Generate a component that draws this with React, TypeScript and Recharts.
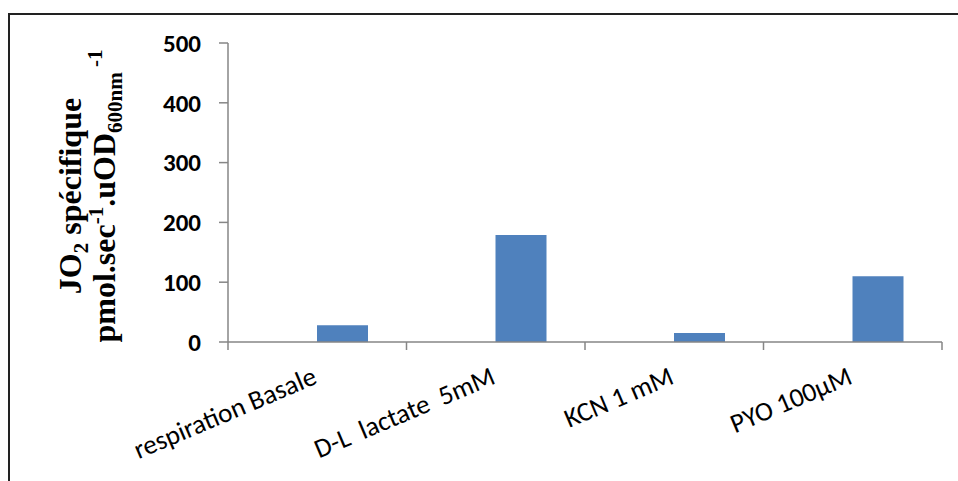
import React from 'react';
import { BarChart, Bar, XAxis, YAxis } from 'recharts';

const categories = ['respiration Basale', 'D-L  lactate  5mM', 'KCN 1 mM', 'PYO 100µM'];
const jo2Values = [28, 179, 15, 110];
const spacerValues = [0, 0, 0, 0];
const yTicks = [0, 100, 200, 300, 400, 500];

const data = categories.map((name, i) => ({ name, spacer: spacerValues[i], jo2: jo2Values[i] }));

const W = 958;
const H = 481;
const PLOT_LEFT = 228;
const PLOT_RIGHT = 942;
const PLOT_TOP = 43;
const PLOT_BOTTOM = 342;
const BAND = (PLOT_RIGHT - PLOT_LEFT) / categories.length;
const AXIS_GREY = '#868686';
const SANS = 'Carlito, Calibri, Lato, sans-serif';

const XTick = (props: any) => {
  const { x, payload, index } = props;
  const left = x - BAND / 2;
  const last = index === categories.length - 1;
  const tx = x + 1;
  const ty = PLOT_BOTTOM + 41;
  return (
    <g>
      <line x1={left} y1={PLOT_BOTTOM} x2={left} y2={PLOT_BOTTOM + 8} stroke={AXIS_GREY} strokeWidth={1.5} />
      {last && (
        <line x1={x + BAND / 2} y1={PLOT_BOTTOM} x2={x + BAND / 2} y2={PLOT_BOTTOM + 8} stroke={AXIS_GREY} strokeWidth={1.5} />
      )}
      <text
        x={tx}
        y={ty}
        textAnchor="end"
        transform={`rotate(-23 ${tx} ${ty})`}
        fontFamily={SANS}
        fontSize={27}
        fill="#000"
        style={{ whiteSpace: 'pre' }}
      >
        {payload.value}
      </text>
    </g>
  );
};

const YTitle = () => {
  const cy = 196;
  const serif = '"Liberation Serif", "Times New Roman", serif';
  return (
    <g fontFamily={serif} fontWeight="bold" fill="#000">
      <text x={81} y={cy} textAnchor="middle" fontSize={32} transform={`rotate(-90 81 ${cy})`}>
        JO<tspan fontSize={21} dy={7}>2</tspan>
        <tspan dy={-7}> spécifique</tspan>
      </text>
      <text x={115} y={cy} textAnchor="middle" fontSize={32} transform={`rotate(-90 115 ${cy})`}>
        pmol.sec<tspan fontSize={21} dy={-12}>-1</tspan>
        <tspan dy={12}>.uOD</tspan>
        <tspan fontSize={21} dy={7}>600nm</tspan>
        <tspan fontSize={21} dy={-20}> -1</tspan>
      </text>
    </g>
  );
};

export default function App() {
  return (
    <div style={{ position: 'absolute', left: 0, top: 0, width: W, height: H, background: '#fff', overflow: 'hidden' }}>
      <div
        style={{
          position: 'absolute',
          left: 8,
          top: 13,
          width: W + 20,
          height: H + 20,
          border: '2px solid #222',
          boxSizing: 'border-box',
        }}
      />
      <BarChart
        width={W}
        height={H}
        data={data}
        margin={{ top: PLOT_TOP, right: W - PLOT_RIGHT, bottom: 0, left: 0 }}
        barGap={0}
        barSize={51}
        style={{ position: 'absolute', left: 0, top: 0 }}
      >
        <XAxis
          dataKey="name"
          axisLine={{ stroke: AXIS_GREY, strokeWidth: 1.5 }}
          tickLine={false}
          tick={<XTick />}
          interval={0}
          height={H - PLOT_BOTTOM}
        />
        <YAxis
          domain={[0, 500]}
          ticks={yTicks}
          width={PLOT_LEFT}
          axisLine={{ stroke: AXIS_GREY, strokeWidth: 1.5 }}
          tickLine={{ stroke: AXIS_GREY, strokeWidth: 1.5 }}
          tickSize={9}
          tickMargin={18}
          tick={{ fontFamily: SANS, fontSize: 25, fontWeight: 'bold', fill: '#000' }}
          label={<YTitle />}
        />
        <Bar dataKey="spacer" fill="transparent" isAnimationActive={false} />
        <Bar dataKey="jo2" fill="#4f81bd" isAnimationActive={false} />
      </BarChart>
    </div>
  );
}
